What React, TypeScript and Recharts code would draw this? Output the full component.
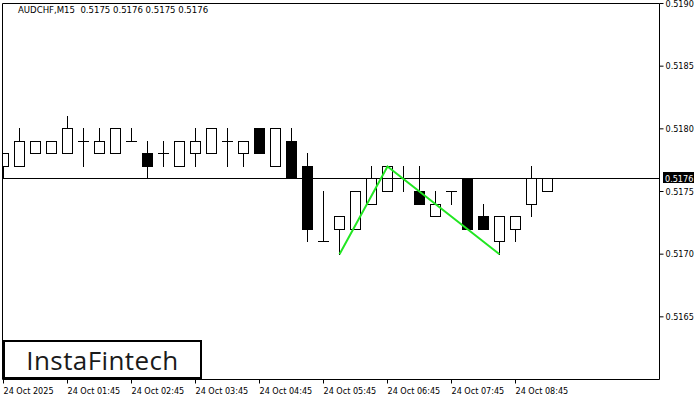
import { ComposedChart, Bar, Line, XAxis, YAxis, ReferenceLine } from 'recharts';

const FONT = "'DejaVu Sans Condensed', 'Liberation Sans', sans-serif";

// 15-minute candles, 24 Oct 2025 from 00:45
const opens = [
  0.5177, 0.5177, 0.5178, 0.5178, 0.5178, 0.5179, 0.5178, 0.5178, 0.5179, 0.5178,
  0.5178, 0.5177, 0.5178, 0.5178, 0.5179, 0.5178, 0.518, 0.5177, 0.5179, 0.5177,
  0.5171, 0.5172, 0.5172, 0.5174, 0.5175, 0.5176, 0.5175, 0.5173, 0.5175, 0.5176,
  0.5173, 0.5171, 0.5172, 0.5174, 0.5175,
];
const highs = [
  0.5178, 0.518, 0.5179, 0.5179, 0.5181, 0.518, 0.518, 0.518, 0.518, 0.5179,
  0.5179, 0.5179, 0.518, 0.518, 0.518, 0.5179, 0.518, 0.518, 0.518, 0.5178,
  0.5175, 0.5173, 0.5175, 0.5177, 0.5177, 0.5177, 0.5177, 0.5175, 0.5175, 0.5176,
  0.5174, 0.5173, 0.5173, 0.5177, 0.5176,
];
const lows = [
  0.5176, 0.5177, 0.5178, 0.5178, 0.5178, 0.5177, 0.5178, 0.5178, 0.5179, 0.5176,
  0.5177, 0.5177, 0.5177, 0.5178, 0.5177, 0.5177, 0.5178, 0.5177, 0.5176, 0.5171,
  0.5171, 0.517, 0.5172, 0.5174, 0.5175, 0.5175, 0.5174, 0.5173, 0.5174, 0.5172,
  0.5172, 0.517, 0.5171, 0.5173, 0.5175,
];
const closes = [
  0.5178, 0.5179, 0.5179, 0.5179, 0.518, 0.5179, 0.5179, 0.518, 0.5179, 0.5177,
  0.5178, 0.5179, 0.5179, 0.518, 0.5179, 0.5179, 0.5178, 0.518, 0.5176, 0.5172,
  0.5171, 0.5173, 0.5175, 0.5176, 0.5177, 0.5176, 0.5174, 0.5174, 0.5175, 0.5172,
  0.5172, 0.5173, 0.5173, 0.5176, 0.5176,
];

const timeTicks = [0, 4, 8, 12, 16, 20, 24, 28, 32];
const timeLabels = [
  '24 Oct 2025', '24 Oct 01:45', '24 Oct 02:45', '24 Oct 03:45', '24 Oct 04:45',
  '24 Oct 05:45', '24 Oct 06:45', '24 Oct 07:45', '24 Oct 08:45',
];
const priceTicks = [0.5165, 0.517, 0.5175, 0.518, 0.5185, 0.519];
const currentPrice = 0.5176;

// double top / zigzag pattern
const patternIdx = [21, 24, 31];
const patternPrice = [0.517, 0.5177, 0.517];

const candles = opens.map((open, i) => ({
  idx: i,
  open,
  high: highs[i],
  low: lows[i],
  close: closes[i],
}));
const pattern = patternIdx.map((idx, i) => ({ idx, price: patternPrice[i] }));

const X_MIN = -0.0625;
const X_MAX = 41;
const Y_MIN = 0.516;
const Y_MAX = 0.519;

const crisp = (v: number) => Math.round(v - 0.5) + 0.5;

function Candle(props: any) {
  const { x, y, width, height, payload } = props;
  const { open, close, high, low } = payload;
  const top0 = Math.min(y, y + height);
  const ratio = Math.abs(height) / (high - low);
  const py = (v: number) => top0 + (high - v) * ratio;
  const cx = crisp(x + width / 2);
  const half = 5;
  const top = crisp(py(Math.max(open, close)));
  const bot = crisp(py(Math.min(open, close)));
  return (
    <g>
      <line x1={cx} x2={cx} y1={crisp(py(high))} y2={crisp(py(low))} stroke="#000" strokeLinecap="square" />
      {top === bot ? (
        <line x1={cx - half} x2={cx + half} y1={top} y2={top} stroke="#000" strokeLinecap="square" />
      ) : (
        <rect x={cx - half} y={top} width={half * 2} height={bot - top} fill={close >= open ? '#fff' : '#000'} stroke="#000" />
      )}
    </g>
  );
}

function CrispLine(props: any) {
  const { x1, y1, x2, y2 } = props;
  return <line x1={crisp(x1)} y1={crisp(y1)} x2={crisp(x2)} y2={crisp(y2)} stroke="#000" strokeWidth={1} />;
}

function DateTick(props: any) {
  const { x, y, payload } = props;
  const label = timeLabels[timeTicks.indexOf(payload.value)] ?? '';
  return (
    <text x={x} y={y} dy={8} textAnchor="start" fontSize={9} fontFamily={FONT} fill="#000">
      {label}
    </text>
  );
}

function PriceTag(props: any) {
  const vb = props.viewBox;
  if (!vb) return null;
  const left = vb.x + vb.width + 3.5;
  const cy = crisp(vb.y);
  return (
    <g>
      <rect x={Math.round(left)} y={cy - 6.5} width={31} height={11} fill="#000" />
      <text x={Math.round(left) + 2} y={cy + 3} fontSize={9} fontFamily={FONT} fill="#fff">
        {currentPrice.toFixed(4)}
      </text>
    </g>
  );
}

export default function App() {
  return (
    <div style={{ position: 'absolute', left: 0, top: 0, width: 700, height: 400, background: '#fff' }}>
      <ComposedChart
        width={700}
        height={400}
        data={candles}
        margin={{ top: 3.5, right: 0, bottom: 0, left: 2.5 }}
      >
        <XAxis
          dataKey="idx"
          type="number"
          domain={[X_MIN, X_MAX]}
          allowDataOverflow
          ticks={timeTicks}
          tick={<DateTick />}
          tickSize={4}
          tickMargin={2}
          height={20.5}
          stroke="#000"
          interval={0}
        />
        <YAxis
          orientation="right"
          type="number"
          domain={[Y_MIN, Y_MAX]}
          allowDataOverflow
          ticks={priceTicks}
          tickFormatter={(v: number) => v.toFixed(4)}
          tick={{ fontSize: 9, fontFamily: FONT, fill: '#000' }}
          tickSize={4}
          tickMargin={2}
          width={40.5}
          stroke="#000"
          interval={0}
        />
        <ReferenceLine y={Y_MAX} shape={CrispLine} />
        <ReferenceLine x={X_MIN} shape={CrispLine} />
        <ReferenceLine y={currentPrice} shape={CrispLine} label={PriceTag} />
        <Bar
          dataKey={(d: any) => [d.low, d.high]}
          barSize={10}
          shape={Candle}
          isAnimationActive={false}
        />
        <Line
          data={pattern}
          dataKey="price"
          type="linear"
          stroke="#22e622"
          strokeWidth={2}
          dot={false}
          activeDot={false}
          isAnimationActive={false}
        />
      </ComposedChart>
      <div
        style={{
          position: 'absolute',
          left: 18,
          top: 4,
          fontFamily: FONT,
          fontSize: 9.5,
          color: '#000',
          whiteSpace: 'pre',
        }}
      >
        {'AUDCHF,M15  0.5175 0.5176 0.5175 0.5176'}
      </div>
      <div
        style={{
          position: 'absolute',
          left: 3,
          top: 340,
          width: 199,
          height: 39,
          boxSizing: 'border-box',
          border: '2px solid #000',
          background: '#fff',
          display: 'flex',
          alignItems: 'center',
          justifyContent: 'center',
          fontFamily: "'Open Sans', sans-serif",
          fontWeight: 500,
          fontSize: 26,
          letterSpacing: 0.4,
          color: '#1a1a1a',
        }}
      >
        InstaFintech
      </div>
    </div>
  );
}
